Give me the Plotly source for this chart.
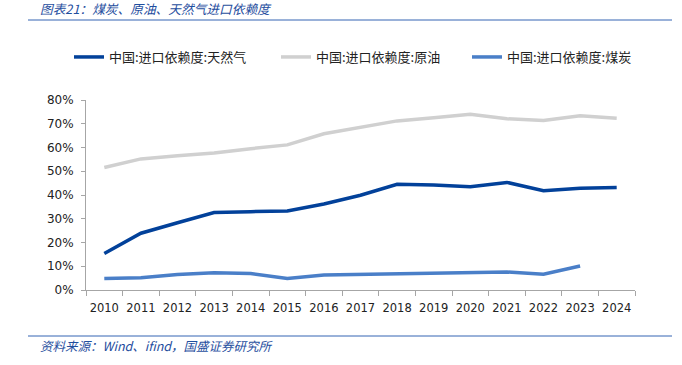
import plotly.graph_objects as go

years = [str(y) for y in range(2010, 2025)]
gas = [15.4, 23.9, 28.3, 32.6, 33.0, 33.3, 36.2, 39.9, 44.5, 44.2, 43.5, 45.3, 41.8, 42.8, 43.2]
oil = [51.6, 55.2, 56.5, 57.7, 59.5, 61.1, 65.8, 68.5, 71.2, 72.5, 74.0, 72.1, 71.4, 73.4, 72.3]
coal = [4.8, 5.2, 6.5, 7.3, 6.9, 4.8, 6.3, 6.6, 6.9, 7.3, 7.4, 7.6, 6.6, 10.1, None]
names = ["中国:进口依赖度:天然气", "中国:进口依赖度:原油", "中国:进口依赖度:煤炭"]
colors = ["#02419A", "#D0D0D0", "#4A7FC8"]

title_text = "图表21：煤炭、原油、天然气进口依赖度"
source_text = "资料来源：Wind、ifind，国盛证券研究所"

cjk = "Noto Sans CJK SC"
W, H = 682, 365
L, R, T, B = 86, 47, 100, 75
pw = W - L - R
ph = H - T - B

legend_ids = ["legend", "legend2", "legend3"]
legend_x = [69, 276, 467]  # page px

fig = go.Figure()
for name, vals, col, lid in zip(names, [gas, oil, coal], colors, legend_ids):
    fig.add_trace(go.Scatter(
        x=years, y=[v / 100 if v is not None else None for v in vals],
        mode="lines", name=name, legend=lid,
        line=dict(color=col, width=3.5),
    ))

leg_common = dict(
    orientation="h", xanchor="left", yanchor="middle",
    xref="container", yref="container",
    font=dict(family=cjk, size=13, color="#222"),
    itemwidth=30, bgcolor="rgba(0,0,0,0)",
)
layout_legends = {}
for lid, lx in zip(legend_ids, legend_x):
    layout_legends[lid] = dict(leg_common, x=lx / W, y=(H - 57) / H)

fig.update_layout(
    width=W, height=H,
    margin=dict(l=L, r=R, t=T, b=B, autoexpand=False),
    paper_bgcolor="white", plot_bgcolor="white",
    showlegend=True,
    **layout_legends,
    xaxis=dict(
        type="category", showgrid=False, zeroline=False,
        range=[-0.5, len(years) - 0.5],
        showline=True, linecolor="#A6A6A6", linewidth=1,
        ticks="outside", ticklen=5, tickcolor="#A6A6A6", tickson="boundaries",
        tickangle=0, automargin=False,
        tickfont=dict(family="DejaVu Sans", size=11.5, color="#222"),
        ticklabelstandoff=7,
    ),
    yaxis=dict(
        range=[0, 0.8], dtick=0.1, tickformat=".0%",
        showgrid=False, zeroline=False, automargin=False,
        showline=True, linecolor="#A6A6A6", linewidth=1,
        ticks="outside", ticklen=4, tickcolor="#A6A6A6",
        tickfont=dict(family="DejaVu Sans", size=12, color="#222"),
        ticklabelstandoff=5,
    ),
)

fig.add_annotation(
    text="<i>" + title_text + "</i>",
    x=(38 - L) / pw, y=(H - B - 8) / ph,
    xref="paper", yref="paper", xanchor="left", yanchor="middle", showarrow=False,
    font=dict(family=cjk, size=12.7, color="#1F4E9E"),
)
fig.add_annotation(
    text="<i>" + source_text + "</i>",
    x=(38 - L) / pw, y=-(345 - (H - B)) / ph,
    xref="paper", yref="paper", xanchor="left", yanchor="middle", showarrow=False,
    font=dict(family=cjk, size=12.5, color="#1F4E9E"),
)
for ypix in (20, 336):
    fig.add_shape(
        type="line", xref="paper", yref="paper",
        x0=(28 - L) / pw, x1=(672 - L) / pw,
        y0=((H - B) - ypix) / ph, y1=((H - B) - ypix) / ph,
        line=dict(color="#3465B3", width=1),
    )

fig.write_html(
    "out.html",
    config={"displayModeBar": False},
    post_script="document.body.style.margin='0';document.body.style.overflow='hidden';",
)
